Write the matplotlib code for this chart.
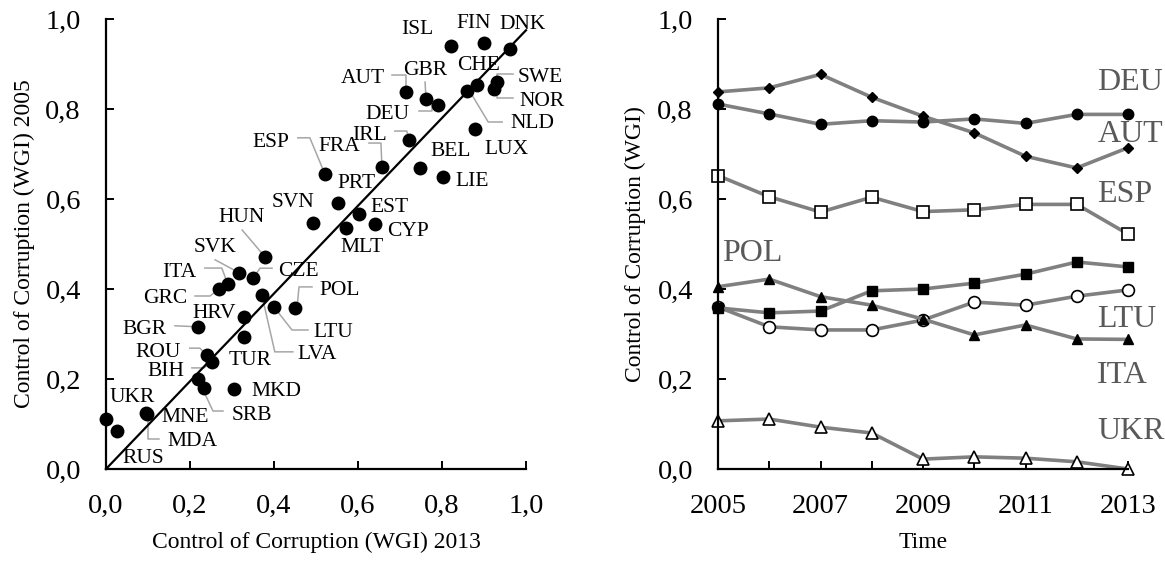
import numpy as np
import matplotlib
matplotlib.use("Agg")
import matplotlib.pyplot as plt
from matplotlib.ticker import FuncFormatter

plt.rcParams['font.family'] = ['Liberation Serif', 'DejaVu Serif']

# -----------------------------
# Data: left panel (scatter)
# -----------------------------
countries = ['ISL', 'FIN', 'DNK', 'CHE', 'SWE', 'NOR', 'NLD', 'AUT', 'GBR', 'DEU',
             'LUX', 'IRL', 'FRA', 'BEL', 'ESP', 'LIE', 'PRT', 'EST', 'SVN', 'CYP',
             'MLT', 'HUN', 'SVK', 'CZE', 'ITA', 'GRC', 'LVA', 'LTU', 'POL', 'HRV',
             'BGR', 'TUR', 'ROU', 'BIH', 'SRB', '', 'MKD', 'MNE', 'MDA', 'UKR', 'RUS']
cc2013 = [0.821, 0.900, 0.962, 0.883, 0.931, 0.924, 0.860, 0.714, 0.762, 0.790,
          0.879, 0.721, 0.657, 0.748, 0.521, 0.802, 0.552, 0.602, 0.493, 0.640,
          0.571, 0.379, 0.317, 0.350, 0.290, 0.269, 0.371, 0.400, 0.450, 0.329,
          0.219, 0.329, 0.240, 0.252, 0.219, 0.233, 0.305, 0.095, 0.098, 0.000, 0.026]
cc2005 = [0.940, 0.947, 0.933, 0.853, 0.860, 0.844, 0.840, 0.838, 0.822, 0.809,
          0.756, 0.731, 0.671, 0.669, 0.656, 0.649, 0.591, 0.567, 0.547, 0.544,
          0.536, 0.471, 0.436, 0.424, 0.411, 0.400, 0.387, 0.360, 0.358, 0.338,
          0.316, 0.293, 0.253, 0.238, 0.200, 0.180, 0.178, 0.124, 0.122, 0.111, 0.084]
fit_x = [0.0, 1.0]
fit_y = [0.0, 0.975]

# -----------------------------
# Data: right panel (time series)
# -----------------------------
years = list(range(2005, 2014))
deu = [0.811, 0.789, 0.766, 0.774, 0.771, 0.778, 0.768, 0.788, 0.788]
aut = [0.838, 0.847, 0.877, 0.826, 0.784, 0.747, 0.695, 0.669, 0.714]
esp = [0.652, 0.605, 0.571, 0.604, 0.572, 0.576, 0.588, 0.588, 0.522]
pol = [0.358, 0.347, 0.351, 0.396, 0.400, 0.413, 0.433, 0.460, 0.449]
ita = [0.405, 0.422, 0.383, 0.364, 0.333, 0.298, 0.320, 0.289, 0.288]
ltu = [0.360, 0.316, 0.309, 0.309, 0.331, 0.371, 0.364, 0.384, 0.398]
ukr = [0.107, 0.111, 0.093, 0.080, 0.022, 0.027, 0.024, 0.016, 0.000]

# -----------------------------
# Label layout (pixel offsets from point, y pointing down)
# -----------------------------
text_off = {
    'ISL': (-34, -19), 'FIN': (-10, -22), 'DNK': (13, -27), 'CHE': (2, -22),
    'SWE': (43, -7), 'NOR': (48, 10), 'NLD': (65, 30), 'AUT': (-43, -16),
    'GBR': (-1, -31), 'DEU': (-50, 7), 'LUX': (31, 18), 'IRL': (-39, -7),
    'FRA': (-43, -23), 'BEL': (31, -19), 'ESP': (-54, -34), 'LIE': (29, 2),
    'PRT': (19, -22), 'EST': (31, -9), 'SVN': (-20, -23), 'CYP': (33, 5),
    'MLT': (16, 17), 'HUN': (-24, -42), 'SVK': (-24, -28), 'CZE': (45, -9),
    'ITA': (-49, -14), 'GRC': (-54, 7), 'LVA': (55, 57), 'LTU': (59, 23),
    'POL': (45, -20), 'HRV': (-30, -6), 'BGR': (-53, 0), 'TUR': (6, 21),
    'ROU': (-49, -5), 'BIH': (-46, 7), 'SRB': (54, 34), 'MKD': (42, 0),
    'MNE': (39, 2), 'MDA': (45, 25), 'UKR': (26, -24), 'RUS': (26, 25),
}
leaders = {
    'SWE': [(16, -8), (0, -8), (0, 0)],
    'NOR': [(19, 9), (3, 9), (3, 0)],
    'NLD': [(3, 1), (21, 31), (35, 31)],
    'AUT': [(-14, -17), (0, -17), (0, 0)],
    'GBR': [(-1, -17), (0, 0)],
    'DEU': [(-19, 6), (-6, 6), (-6, 0)],
    'IRL': [(-14, -9), (-2, -9), (0, 0)],
    'FRA': [(-13, -24), (-1, -24), (0, 0)],
    'ESP': [(-27, -36), (-15, -36), (0, 0)],
    'HUN': [(-23, -27), (0, 0)],
    'SVK': [(-24, -13), (0, 0)],
    'ITA': [(-23, -16), (-6, -16), (0, 0)],
    'GRC': [(-24, 7), (-9, 7), (0, 0)],
    'CZE': [(19, -10), (7, -10), (0, 0)],
    'POL': [(17, -21), (4, -21), (2, 0)],
    'LTU': [(0, 0), (18, 23), (34, 23)],
    'LVA': [(0, 0), (13, 57), (31, 57)],
    'BGR': [(-23, -1), (0, 0)],
    'ROU': [(-17, -7), (-7, -7), (0, 0)],
    'BIH': [(-20, 6), (-8, 6), (0, 0)],
    'SRB': [(0, 0), (15, 32), (25, 32)],
    'MDA': [(1, 0), (1, 25), (12, 25)],
}

fmt = FuncFormatter(lambda v, p: f"{v:.1f}".replace('.', ','))
TICK_FS = 20.5
LABEL_FS = 17

fig = plt.figure(figsize=(11.65, 5.75), dpi=100)
ax1 = fig.add_axes([106 / 1165, 106 / 575, 420 / 1165, 450 / 575])
ax2 = fig.add_axes([718 / 1165, 106 / 575, 410 / 1165, 450 / 575])

for ax in (ax1, ax2):
    ax.spines['top'].set_visible(False)
    ax.spines['right'].set_visible(False)
    ax.spines['left'].set_linewidth(1.6)
    ax.spines['bottom'].set_linewidth(1.6)
    ax.tick_params(direction='in', length=6, width=1.4, pad=18, labelsize=TICK_FS)
    ax.set_ylim(0, 1)
    ax.set_yticks(np.arange(0, 1.01, 0.2))
    ax.yaxis.set_major_formatter(fmt)

# -----------------------------
# Left: scatter
# -----------------------------
ax1.set_xlim(0, 1)
ax1.set_xticks(np.arange(0, 1.01, 0.2))
ax1.xaxis.set_major_formatter(fmt)
ax1.plot(fit_x, fit_y, color='black', lw=1.6, zorder=2, clip_on=False)
ax1.scatter(cc2013, cc2005, s=100, color='black', zorder=3, clip_on=False, linewidths=0)

fig.canvas.draw()
to_disp = ax1.transData
to_data = ax1.transData.inverted()
for name, x, y in zip(countries, cc2013, cc2005):
    if name == '':
        continue
    dx, dy = text_off[name]
    ax1.annotate(name, xy=(x, y), xytext=(dx, -dy), textcoords='offset pixels',
                 ha='center', va='center_baseline', fontsize=15.5, zorder=4)
    if name in leaders:
        px, py = to_disp.transform((x, y))
        verts = np.array([(px + a, py - b) for a, b in leaders[name]])
        dv = to_data.transform(verts)
        ax1.plot(dv[:, 0], dv[:, 1], color='#a6a6a6', lw=1.1, zorder=1, clip_on=False)

ax1.set_xlabel('Control of Corruption (WGI) 2013', fontsize=LABEL_FS)
ax1.set_ylabel('Control of Corruption (WGI) 2005', fontsize=LABEL_FS)
ax1.xaxis.set_label_coords(0.5, -0.14)
ax1.yaxis.set_label_coords(-0.169, 0.5)

# -----------------------------
# Right: time series
# -----------------------------
line_kw = dict(color='#808080', lw=2.6, markeredgecolor='black', clip_on=False)
ax2.plot(years, ukr, marker='^', ms=9, mfc='white', mew=1.2, **line_kw)
ax2.plot(years, ltu, marker='o', ms=8.5, mfc='white', mew=1.2, **line_kw)
ax2.plot(years, ita, marker='^', ms=6.5, mfc='black', **line_kw)
ax2.plot(years, pol, marker='s', ms=7, mfc='black', **line_kw)
ax2.plot(years, esp, marker='s', ms=9, mfc='white', mew=1.2, **line_kw)
ax2.plot(years, aut, marker='D', ms=5, mfc='black', **line_kw)
ax2.plot(years, deu, marker='o', ms=7.5, mfc='black', **line_kw)

series_labels = {'DEU': (2012.4, 0.867), 'AUT': (2012.4, 0.751), 'ESP': (2012.4, 0.618),
                 'POL': (2005.08, 0.487), 'LTU': (2012.4, 0.340), 'ITA': (2012.4, 0.216),
                 'UKR': (2012.4, 0.091)}
for name, (tx, ty) in series_labels.items():
    ax2.text(tx, ty, name, fontsize=23, color='#595959', ha='left',
             va='center_baseline', clip_on=False)

ax2.set_xlim(2005, 2013)
ax2.set_xticks(years)
ax2.set_xticklabels([str(y) if y % 2 == 1 else '' for y in years])
ax2.set_xlabel('Time', fontsize=LABEL_FS)
ax2.set_ylabel('Control of Corruption (WGI)', fontsize=LABEL_FS)
ax2.xaxis.set_label_coords(0.5, -0.14)
ax2.yaxis.set_label_coords(-0.176, 0.5)

fig.savefig('out.png', dpi=100)
